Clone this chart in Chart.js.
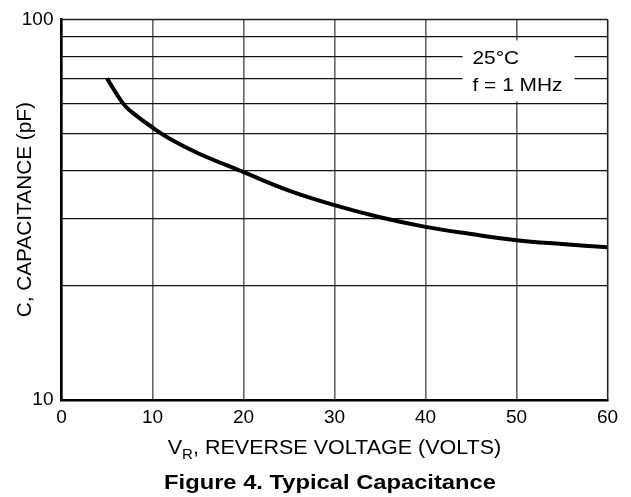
<!DOCTYPE html>
<html>
<head>
<meta charset="utf-8">
<script src="https://cdn.jsdelivr.net/npm/chart.js@4/dist/chart.umd.min.js"></script>
<style>
html,body{margin:0;padding:0;background:#fff;}
#wrap{width:631px;height:497px;position:relative;}
</style>
</head>
<body>
<div id="wrap"><canvas id="c" width="631" height="497"></canvas></div>
<script>
// ---- data ----
const voltage = [5, 6, 7, 8, 10, 12, 15, 20, 25, 30, 35, 40, 45, 50, 55, 60];
const capacitance = [70, 64, 59.2, 56.4, 52, 48.4, 44.5, 39.7, 35.5, 32.5, 30.2, 28.5, 27.3, 26.3, 25.7, 25.2];
const xTicks = [0, 10, 20, 30, 40, 50, 60];
const yGrid = [10, 20, 30, 40, 50, 60, 70, 80, 90, 100];
const yLabels = [10, 100];
const xTitleMain = 'V';
const xTitleSub = 'R';
const xTitleRest = ', REVERSE VOLTAGE (VOLTS)';
const yTitle = 'C, CAPACITANCE (pF)';
const caption = 'Figure 4. Typical Capacitance';
const noteLines = ['25°C', 'f = 1 MHz'];

const FONT = '"Liberation Sans", Arial, Helvetica, sans-serif';

// draw text horizontally stretched by factor k, anchored left at x
function textW(ctx, t, x, y, k) {
  ctx.save();
  ctx.translate(x, y);
  ctx.scale(k, 1);
  ctx.textAlign = 'left';
  ctx.fillText(t, 0, 0);
  ctx.restore();
  return ctx.measureText(t).width * k;
}

const decor = {
  id: 'decor',
  afterDatasetsDraw(chart) {
    const ctx = chart.ctx;
    const a = chart.chartArea;
    ctx.save();
    ctx.fillStyle = '#fff';
    ctx.fillRect(a.left + 401, a.top + 21, 112, 61);
    ctx.strokeStyle = '#222';
    ctx.lineWidth = 1.2;
    ctx.beginPath();
    ctx.moveTo(a.right, a.top);
    ctx.lineTo(a.right, a.bottom);
    ctx.moveTo(a.left, a.top);
    ctx.lineTo(a.right, a.top);
    ctx.stroke();
    ctx.fillStyle = '#000';
    ctx.font = '19px ' + FONT;
    ctx.textBaseline = 'alphabetic';
    textW(ctx, noteLines[0], a.left + 411, a.top + 45, 1.1);
    textW(ctx, noteLines[1], a.left + 411, a.top + 72, 1.1);
    ctx.restore();
  },
  afterDraw(chart) {
    const ctx = chart.ctx;
    const a = chart.chartArea;
    ctx.save();
    ctx.fillStyle = '#000';
    ctx.textBaseline = 'alphabetic';
    // x title with subscript
    const k = 1.075;
    const big = '20px ' + FONT;
    const small = '14px ' + FONT;
    ctx.font = big;
    const w1 = ctx.measureText(xTitleMain).width * k;
    const w3 = ctx.measureText(xTitleRest).width * k;
    ctx.font = small;
    const w2 = ctx.measureText(xTitleSub).width * k;
    const total = w1 + w2 + w3;
    const cx = (a.left + a.right) / 2;
    const x0 = cx - total / 2;
    const base = 454;
    ctx.font = big;
    textW(ctx, xTitleMain, x0, base, k);
    ctx.font = small;
    textW(ctx, xTitleSub, x0 + w1, base + 5, k);
    ctx.font = big;
    textW(ctx, xTitleRest, x0 + w1 + w2, base, k);
    // caption
    ctx.font = 'bold 21px ' + FONT;
    const kc = 1.13;
    const wc = ctx.measureText(caption).width * kc;
    textW(ctx, caption, 330 - wc / 2, 489, kc);
    // y title
    ctx.translate(31, (a.top + a.bottom) / 2);
    ctx.rotate(-Math.PI / 2);
    ctx.font = '20px ' + FONT;
    const ky = 1.04;
    const wy = ctx.measureText(yTitle).width * ky;
    textW(ctx, yTitle, -wy / 2, 0, ky);
    ctx.restore();
  }
};

new Chart(document.getElementById('c'), {
  type: 'line',
  data: {
    datasets: [{
      data: voltage.map((v, i) => ({x: v, y: capacitance[i]})),
      borderColor: '#000',
      borderWidth: 4,
      pointRadius: 0,
      fill: false,
      tension: 0.4,
      borderCapStyle: 'butt'
    }]
  },
  options: {
    responsive: false,
    animation: false,
    events: [],
    layout: {padding: {top: 16, right: 23.5, left: 0, bottom: 0}},
    plugins: {legend: {display: false}, tooltip: {enabled: false}},
    scales: {
      x: {
        type: 'linear',
        min: 0, max: 60,
        afterBuildTicks(s) { s.ticks = xTicks.map(v => ({value: v})); },
        afterFit(s) { s.height = 97; },
        ticks: {color: '#000', font: {family: FONT, size: 19}, padding: 6, maxRotation: 0},
        grid: {color: '#666', lineWidth: 1.6, drawTicks: false},
        border: {color: '#000', width: 2.5}
      },
      y: {
        type: 'logarithmic',
        min: 10, max: 100,
        afterBuildTicks(s) { s.ticks = yGrid.map(v => ({value: v})); },
        afterFit(s) { s.width = 61.5; },
        ticks: {
          color: '#000', font: {family: FONT, size: 19}, padding: 8,
          callback: (v) => yLabels.includes(v) ? String(v) : ''
        },
        grid: {color: '#111', lineWidth: 1.2, drawTicks: false},
        border: {color: '#000', width: 2.5}
      }
    }
  },
  plugins: [decor]
});
</script>
</body>
</html>
